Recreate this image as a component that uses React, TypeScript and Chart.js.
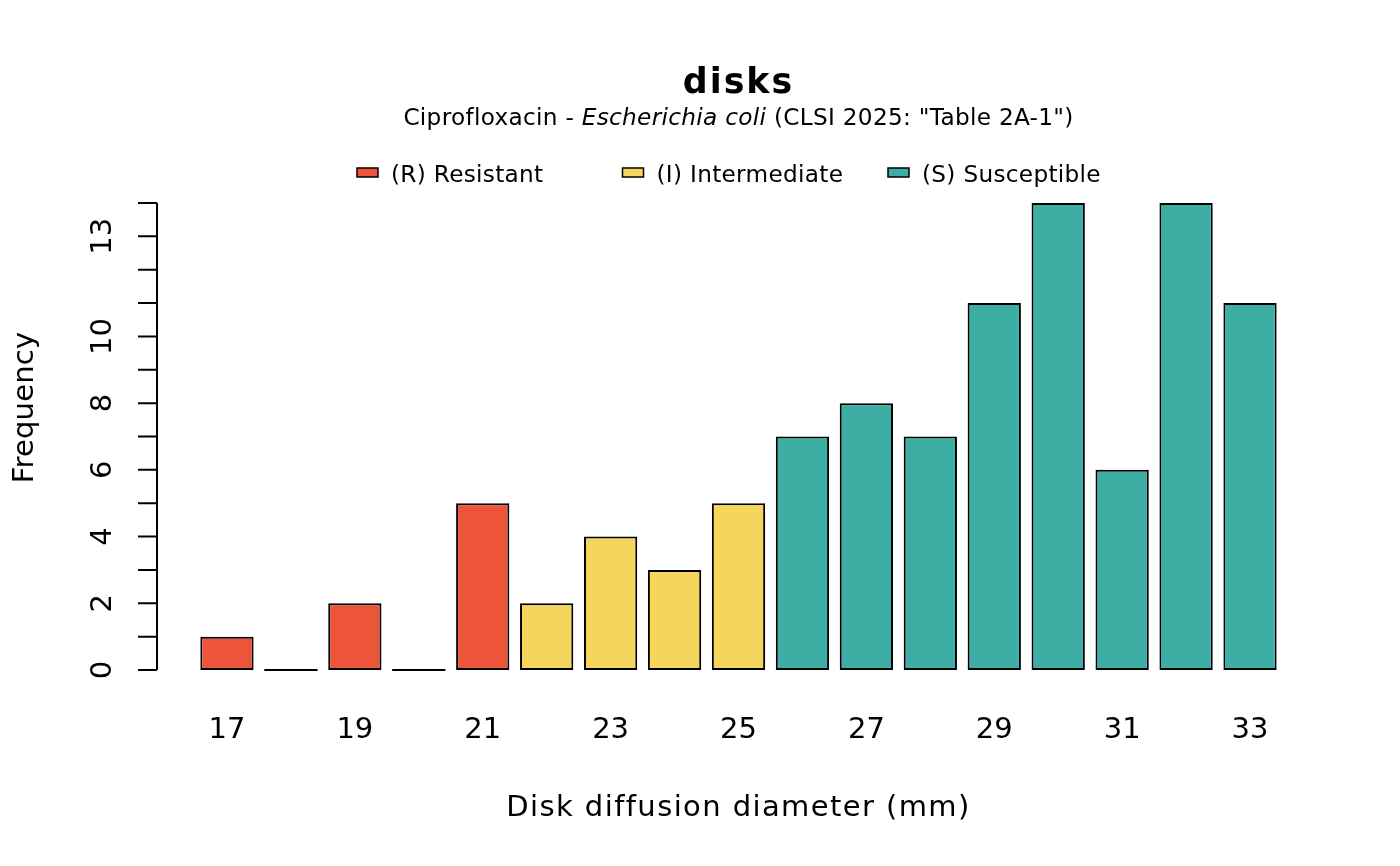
import { useEffect, useRef } from "react";
import { Chart, registerables } from "chart.js";

Chart.register(...registerables);

// disk zones (mm) and how many isolates had each
const diameters = ["17", "18", "19", "20", "21", "22", "23", "24", "25", "26", "27", "28", "29", "30", "31", "32", "33"];
const frequencies = [1, 0, 2, 0, 5, 2, 4, 3, 5, 7, 8, 7, 11, 14, 6, 14, 11];
const interpretations = ["R", "R", "R", "R", "R", "I", "I", "I", "I", "S", "S", "S", "S", "S", "S", "S", "S"];

const yTicks = [0, 1, 2, 3, 4, 5, 6, 7, 8, 9, 10, 11, 12, 13, 14];
const yTickLabels = [0, 2, 4, 6, 8, 10, 13];
const xTickLabels = ["17", "19", "21", "23", "25", "27", "29", "31", "33"];

const legendKeys = ["R", "I", "S"];
const legendLabels = ["(R) Resistant", "(I) Intermediate", "(S) Susceptible"];
const colours: Record<string, string> = { R: "#ED553B", I: "#F6D55C", S: "#3CAEA3" };

const FONT = '"DejaVu Sans", sans-serif';

// R's cairo text is a touch wider than canvas text, so widen a bit
function spaced(ctx: any, px: number) {
  ctx.letterSpacing = `${px}px`;
}

const basePlot = {
  id: "basePlot",
  afterDatasetsDraw(chart: Chart) {
    const { ctx } = chart;
    const meta = chart.getDatasetMeta(0);
    // zero-height bars still show their bottom edge
    ctx.save();
    ctx.strokeStyle = "#000";
    ctx.lineWidth = 2;
    meta.data.forEach((bar: any, i: number) => {
      if (frequencies[i] !== 0) return;
      const { x, y, width } = bar.getProps(["x", "y", "width"], true);
      ctx.beginPath();
      ctx.moveTo(x - width / 2, y);
      ctx.lineTo(x + width / 2, y);
      ctx.stroke();
    });
    ctx.restore();
  },
  afterDraw(chart: Chart) {
    const { ctx } = chart;
    const xs = chart.scales.x;
    const ys = chart.scales.y;
    const area = chart.chartArea;
    const centre = (area.left + area.right) / 2;
    ctx.save();
    ctx.fillStyle = "#000";
    ctx.strokeStyle = "#000";
    ctx.lineWidth = 2;

    // y axis
    const axisX = area.left - 38;
    ctx.beginPath();
    ctx.moveTo(axisX, ys.getPixelForValue(yTicks[0]));
    ctx.lineTo(axisX, ys.getPixelForValue(yTicks[yTicks.length - 1]));
    yTicks.forEach((t) => {
      const py = ys.getPixelForValue(t);
      ctx.moveTo(axisX, py);
      ctx.lineTo(axisX - 19, py);
    });
    ctx.stroke();

    ctx.font = `29px ${FONT}`;
    ctx.textAlign = "center";
    ctx.textBaseline = "alphabetic";
    yTickLabels.forEach((t) => {
      ctx.save();
      ctx.translate(axisX - 46, ys.getPixelForValue(t));
      ctx.rotate(-Math.PI / 2);
      ctx.fillText(String(t), 0, 0);
      ctx.restore();
    });

    // x tick labels
    xTickLabels.forEach((lab) => {
      ctx.fillText(lab, xs.getPixelForValue(diameters.indexOf(lab)), 738);
    });

    // axis titles
    spaced(ctx, 1.4);
    ctx.fillText("Disk diffusion diameter (mm)", centre, 816);
    spaced(ctx, 0.2);
    ctx.save();
    ctx.translate(33, (area.top + area.bottom) / 2 - 29);
    ctx.rotate(-Math.PI / 2);
    ctx.fillText("Frequency", 0, 0);
    ctx.restore();

    // title
    ctx.font = `bold 34.8px ${FONT}`;
    spaced(ctx, 2);
    ctx.fillText("disks", centre, 93);

    // subtitle with italic organism name
    spaced(ctx, 0.3);
    const parts = [
      { text: "Ciprofloxacin - ", font: `23.2px ${FONT}` },
      { text: "Escherichia coli", font: `italic 23.2px ${FONT}` },
      { text: ' (CLSI 2025: "Table 2A-1")', font: `23.2px ${FONT}` },
    ];
    let total = 0;
    parts.forEach((p) => {
      ctx.font = p.font;
      total += ctx.measureText(p.text).width;
    });
    let sx = centre - total / 2;
    ctx.textAlign = "left";
    parts.forEach((p) => {
      ctx.font = p.font;
      ctx.fillText(p.text, sx, 125);
      sx += ctx.measureText(p.text).width;
    });

    // legend
    ctx.font = `23.2px ${FONT}`;
    ctx.lineWidth = 1.5;
    legendKeys.forEach((k, i) => {
      const bx = 357 + i * 265.5;
      ctx.fillStyle = colours[k];
      ctx.fillRect(bx, 168, 21, 9);
      ctx.strokeRect(bx, 168, 21, 9);
      ctx.fillStyle = "#000";
      ctx.fillText(legendLabels[i], bx + 34, 182);
    });
    ctx.restore();
  },
};

export default function App() {
  const canvasRef = useRef<HTMLCanvasElement>(null);
  const chartRef = useRef<Chart | null>(null);

  useEffect(() => {
    document.body.style.margin = "0";
    if (!canvasRef.current) return;
    if (chartRef.current) chartRef.current.destroy();

    chartRef.current = new Chart(canvasRef.current, {
      type: "bar",
      data: {
        labels: diameters,
        datasets: [
          {
            data: frequencies,
            backgroundColor: interpretations.map((k) => colours[k]),
            borderColor: "#000",
            borderWidth: 2,
            borderSkipped: false,
            barPercentage: 1 / 1.2,
            categoryPercentage: 1,
          },
        ],
      },
      options: {
        responsive: false,
        animation: false,
        devicePixelRatio: 1,
        layout: { padding: { left: 195, right: 118, top: 203, bottom: 196 } },
        scales: {
          x: { display: false },
          y: { display: false, min: 0, max: 14 },
        },
        plugins: {
          legend: { display: false },
          tooltip: { enabled: false },
        },
      },
      plugins: [basePlot],
    });

    return () => {
      if (chartRef.current) {
        chartRef.current.destroy();
        chartRef.current = null;
      }
    };
  }, []);

  return (
    <div style={{ width: 1400, height: 866, background: "#fff" }}>
      <canvas ref={canvasRef} width={1400} height={866} />
    </div>
  );
}
